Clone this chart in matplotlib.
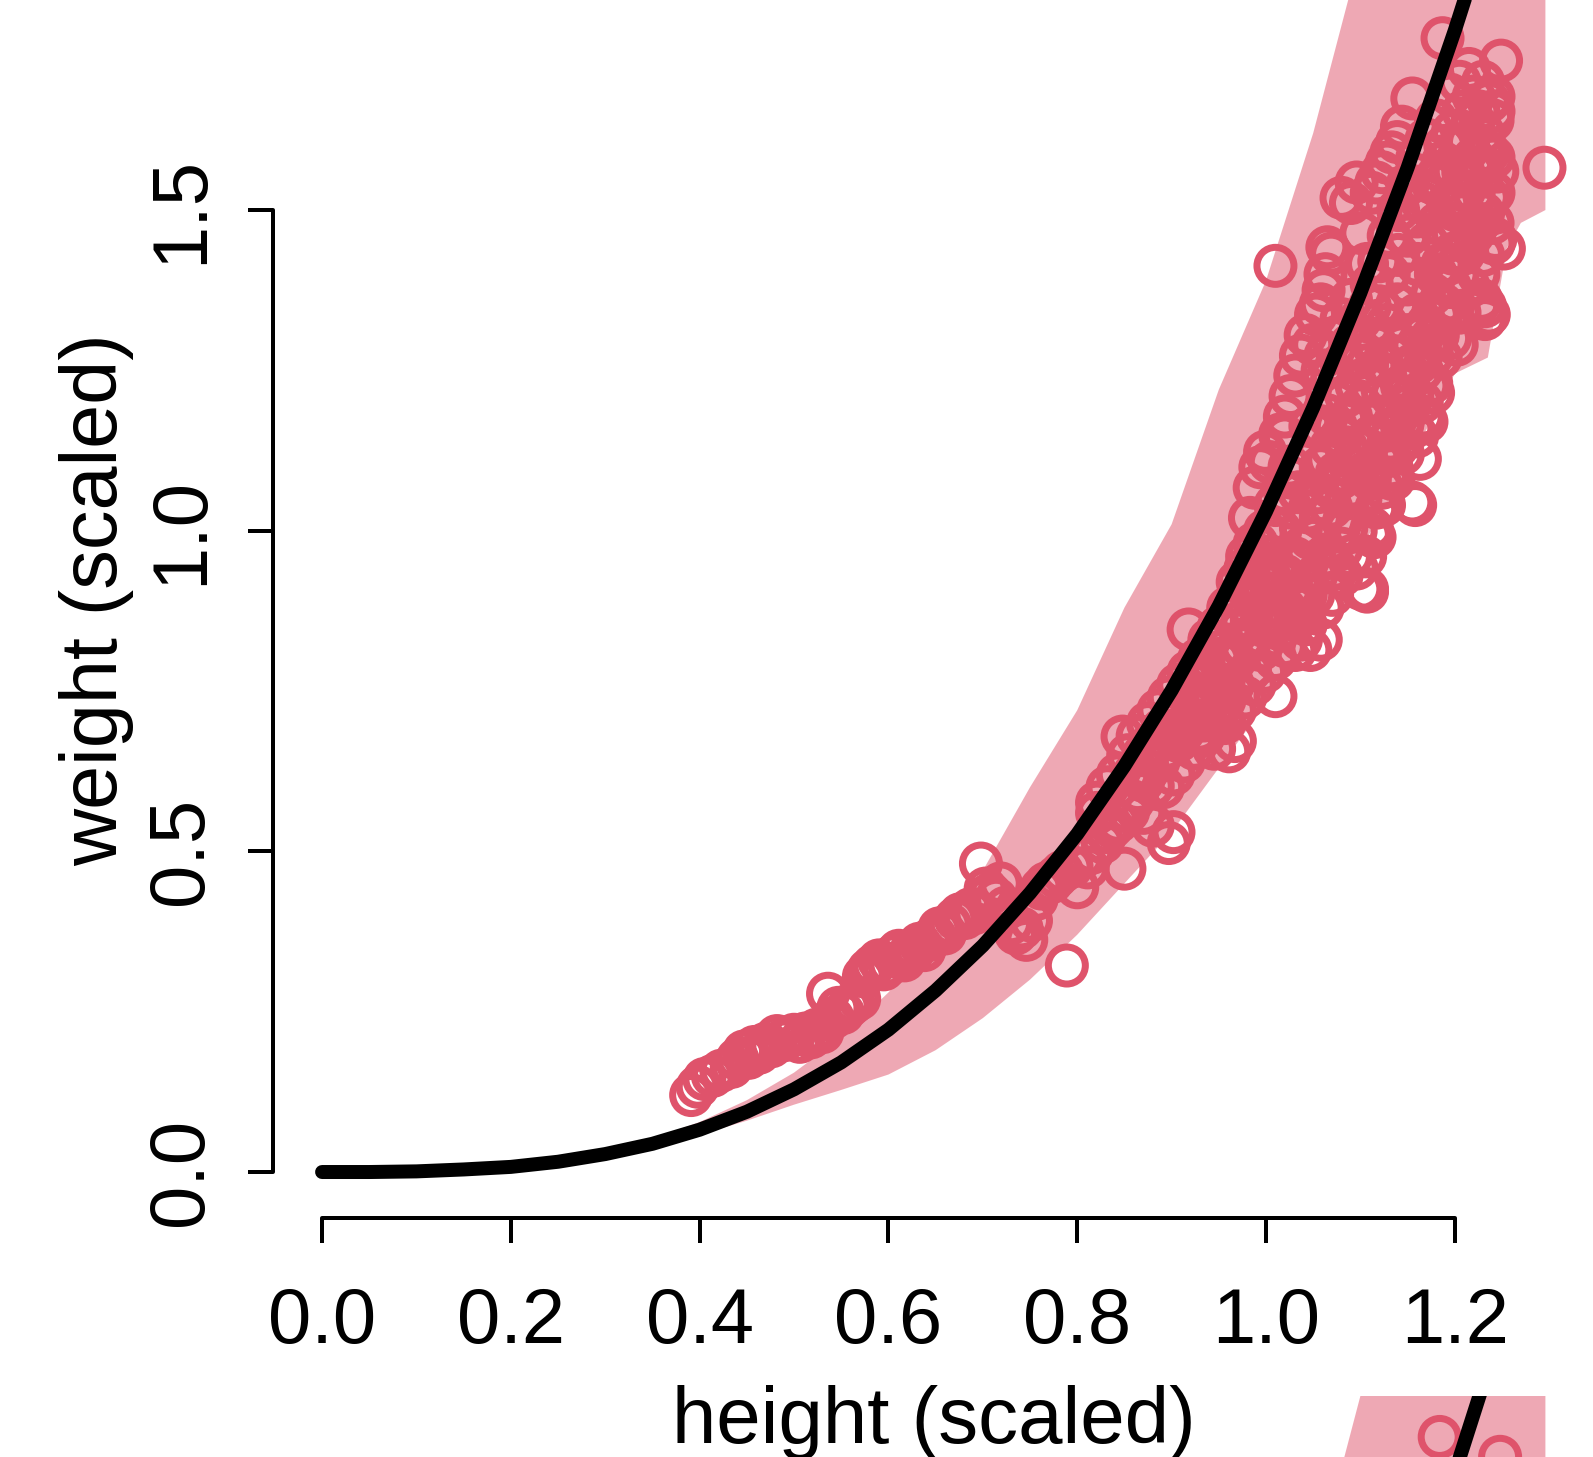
import matplotlib
import matplotlib.pyplot as plt

matplotlib.use("Agg")

plt.rcParams["font.family"] = ["Liberation Sans", "DejaVu Sans"]

# posterior mean curve (height grid -> expected weight), both scaled
grid_x = [0.00, 0.05, 0.10, 0.15, 0.20, 0.25, 0.30, 0.35, 0.40, 0.45, 0.50,
          0.55, 0.60, 0.65, 0.70, 0.75, 0.80, 0.85, 0.90, 0.95, 1.00, 1.05,
          1.10, 1.15, 1.20, 1.25, 1.30]
mu = [0.000, 0.000, 0.001, 0.004, 0.008, 0.016, 0.028, 0.044, 0.066, 0.094,
      0.129, 0.171, 0.222, 0.283, 0.353, 0.435, 0.527, 0.633, 0.751, 0.883,
      1.030, 1.192, 1.371, 1.566, 1.780, 2.010, 2.263]

# 89% prediction interval for simulated weights
band_x = [0.30, 0.35, 0.40, 0.45, 0.50, 0.55, 0.60, 0.65, 0.70, 0.75, 0.80,
          0.85, 0.90, 0.95, 1.00, 1.05, 1.10, 1.15, 1.20, 1.235, 1.255, 1.27,
          1.296]
band_lo = [0.026, 0.040, 0.058, 0.080, 0.105, 0.128, 0.152, 0.190, 0.240,
           0.300, 0.370, 0.450, 0.530, 0.630, 0.730, 0.840, 0.970, 1.100,
           1.245, 1.270, 1.440, 1.480, 1.500]
band_hi = [0.031, 0.052, 0.078, 0.112, 0.155, 0.210, 0.280, 0.360, 0.470,
           0.600, 0.720, 0.880, 1.010, 1.220, 1.390, 1.620, 1.900, 2.150,
           2.400, 2.580, 2.650, 2.700, 2.800]

# observed individuals
height = [
    0.391, 0.398, 0.405, 0.414, 0.423, 0.434, 0.440, 0.447, 0.452, 0.458,
    0.463, 0.470, 0.476, 0.482, 0.488, 0.494, 0.500, 0.506, 0.512, 0.518,
    0.524, 0.530, 0.536, 0.541, 0.547, 0.552, 0.558, 0.563, 0.569, 0.574,
    0.579, 0.584, 0.590, 0.595, 0.601, 0.606, 0.611, 0.617, 0.622, 0.628,
    0.633, 0.638, 0.644, 0.649, 0.654, 0.660, 0.665, 0.671, 0.676, 0.681,
    0.687, 0.692, 0.698, 0.703, 0.708, 0.714, 0.719, 0.724, 0.730, 0.735,
    0.741, 0.746, 0.751, 0.757, 0.762, 0.767, 0.773, 0.778, 0.784, 0.789,
    0.794, 0.800, 0.805, 0.811, 0.816, 0.821, 0.827, 0.832, 0.837, 0.843,
    0.848, 0.850, 0.854, 0.859, 0.864, 0.870, 0.875, 0.880, 0.886, 0.891,
    0.897, 0.902, 0.907, 0.913, 0.918, 0.924, 0.929, 0.934, 0.940, 0.945,
    0.950, 0.956, 0.961, 0.967, 0.918, 0.934, 0.945, 0.956, 0.967, 0.972,
    0.983, 0.988, 0.994, 0.999, 1.004, 1.010, 1.015, 1.020, 1.026, 1.031,
    1.037, 1.042, 1.047, 1.058, 0.870, 0.880, 0.891, 0.902, 0.913, 0.924,
    0.934, 0.945, 0.956, 0.967, 0.978, 0.988, 0.999, 1.010, 1.020, 1.031,
    1.042, 1.053, 1.064, 0.978, 0.988, 0.999, 1.010, 1.020, 0.994, 0.972,
    0.961, 0.950, 0.940, 0.929, 0.918, 0.907, 0.897, 0.886, 0.875, 0.864,
    0.854, 0.843, 0.832, 0.821, 0.983, 0.988, 0.994, 0.999, 1.004, 1.010,
    1.010, 1.015, 1.020, 1.026, 1.031, 1.037, 1.047, 1.053, 1.058, 1.063,
    1.069, 1.074, 1.080, 1.085, 1.090, 1.096, 1.101, 1.107, 1.112, 1.117,
    1.123, 1.128, 1.133, 1.139, 1.144, 1.150, 1.155, 1.160, 1.166, 1.171,
    1.176, 1.182, 1.187, 1.193, 1.198, 1.203, 1.209, 1.214, 1.220, 1.225,
    1.230, 1.236, 1.241, 1.249, 1.236, 1.241, 1.225, 1.228, 1.243, 1.090,
    1.080, 1.096, 1.101, 1.107, 1.112, 1.069, 1.063, 1.058, 1.053, 1.042,
    1.037, 1.031, 1.026, 1.020, 1.112, 1.117, 1.123, 1.128, 1.133, 1.139,
    1.144, 1.155, 1.166, 1.176, 1.187, 1.198, 1.209, 1.220, 1.187, 1.182,
    1.171, 1.166, 1.160, 1.176, 1.187, 1.198, 1.209, 1.220, 1.230, 1.241,
    1.203, 1.214, 1.225, 1.209, 1.220, 1.230, 1.241, 1.252, 1.295, 1.241,
    1.236, 1.155, 1.144, 1.133, 1.123, 1.112, 1.101, 1.090, 1.080, 1.069,
    1.058, 1.047, 1.037, 1.026, 1.144, 1.150, 1.133, 1.123, 1.112, 1.101,
    1.090, 1.080, 1.069, 1.058, 1.085, 1.096, 1.107, 1.117, 1.128, 1.139,
    1.150, 1.160, 1.171, 1.182, 1.193, 1.074, 1.085, 1.065, 1.061, 1.050,
    1.232, 1.232, 1.202, 1.177, 1.170, 1.163, 1.158, 1.110, 1.107,
    1.060, 1.070, 1.080, 1.090, 1.100, 1.110, 1.120, 1.130, 1.140, 1.150,
    1.160, 1.170, 1.180, 1.190, 1.200, 1.210, 1.220, 1.230, 1.240, 1.215,
    1.205, 1.195, 1.185, 1.175, 1.165, 1.155, 1.145, 1.135, 1.125, 1.115,
    1.105, 1.095, 1.085, 1.075, 1.065, 1.055, 1.045, 1.035, 1.025, 1.015,
    1.005, 0.995, 0.985, 0.975, 0.965, 0.955, 0.945, 0.935, 0.925, 0.960,
    1.000, 1.040, 1.050, 1.060, 1.070, 1.080, 1.090, 1.100, 1.110, 1.120,
    1.130, 1.140, 1.150, 1.160, 1.170, 1.180, 1.190, 1.200, 1.210, 1.220,
    1.230, 1.225, 1.240, 1.245, 1.235, 1.195, 1.185, 1.175, 1.165, 1.155,
    1.145, 1.135, 1.125, 1.105, 1.095, 1.085, 1.075, 1.065, 1.080, 1.090,
    1.100, 1.110, 1.120, 1.130, 1.140, 1.150, 1.160, 1.170, 1.180, 1.195,
    1.205, 1.215, 1.230, 0.960, 0.970, 0.980, 0.990, 1.000, 1.010, 1.020,
    1.030, 1.040, 0.950, 0.940, 0.930, 0.975, 0.985, 1.000, 0.860, 0.870,
    0.880, 0.890, 0.900, 0.910, 0.920, 0.930, 0.895, 0.905,
]
weight = [
    0.120, 0.133, 0.145, 0.150, 0.158, 0.164, 0.176, 0.188, 0.178, 0.195,
    0.186, 0.200, 0.196, 0.212, 0.205, 0.210, 0.214, 0.203, 0.216, 0.210,
    0.222, 0.218, 0.278, 0.240, 0.256, 0.248, 0.258, 0.264, 0.270, 0.305,
    0.315, 0.322, 0.330, 0.316, 0.324, 0.338, 0.345, 0.330, 0.340, 0.348,
    0.356, 0.346, 0.362, 0.368, 0.380, 0.372, 0.386, 0.395, 0.402, 0.396,
    0.410, 0.404, 0.481, 0.442, 0.434, 0.426, 0.450, 0.412, 0.388, 0.372,
    0.380, 0.362, 0.392, 0.426, 0.442, 0.450, 0.452, 0.460, 0.468, 0.322,
    0.476, 0.444, 0.490, 0.475, 0.498, 0.576, 0.514, 0.530, 0.538, 0.546,
    0.679, 0.473, 0.562, 0.578, 0.594, 0.610, 0.626, 0.602, 0.640, 0.656,
    0.513, 0.530, 0.672, 0.688, 0.704, 0.720, 0.688, 0.704, 0.736, 0.704,
    0.720, 0.736, 0.656, 0.672, 0.846, 0.798, 0.782, 0.814, 0.798, 0.846,
    0.782, 0.893, 0.814, 0.830, 0.862, 0.742, 0.846, 0.878, 0.893, 0.814,
    0.830, 0.854, 0.814, 0.830, 0.560, 0.540, 0.600, 0.620, 0.640, 0.660,
    0.680, 0.660, 0.700, 0.720, 0.740, 0.760, 0.780, 0.800, 0.820, 0.860,
    0.900, 0.930, 0.960, 0.940, 0.980, 1.000, 1.040, 1.060, 0.940, 0.900,
    0.870, 0.850, 0.830, 0.800, 0.780, 0.760, 0.740, 0.720, 0.700, 0.680,
    0.650, 0.620, 0.600, 0.560, 1.020, 1.067, 1.099, 1.123, 1.107, 1.413,
    0.941, 1.150, 1.147, 1.083, 0.957, 0.972, 1.163, 0.988, 1.099, 1.273,
    1.036, 0.941, 0.972, 1.004, 1.067, 0.941, 0.909, 0.909, 1.004, 1.036,
    1.067, 1.083, 1.099, 1.131, 1.163, 1.194, 1.044, 1.147, 1.178, 1.226,
    1.273, 1.305, 1.353, 1.416, 1.432, 1.511, 1.559, 1.606, 1.638, 1.654,
    1.590, 1.669, 1.677, 1.733, 1.337, 1.448, 1.353, 1.360, 1.455, 1.511,
    1.519, 1.543, 1.464, 1.416, 1.384, 1.432, 1.400, 1.353, 1.337, 1.305,
    1.273, 1.242, 1.210, 1.178, 1.527, 1.543, 1.559, 1.574, 1.590, 1.606,
    1.630, 1.674, 1.511, 1.543, 1.574, 1.622, 1.654, 1.677, 1.768, 1.337,
    1.289, 1.305, 1.337, 1.369, 1.416, 1.464, 1.495, 1.527, 1.559, 1.582,
    1.400, 1.448, 1.479, 1.432, 1.464, 1.495, 1.527, 1.440, 1.566, 1.654,
    1.590, 1.258, 1.226, 1.210, 1.178, 1.147, 1.131, 1.099, 1.083, 1.067,
    1.020, 0.988, 1.004, 1.036, 1.289, 1.305, 1.273, 1.258, 1.226, 1.194,
    1.178, 1.147, 1.131, 1.163, 1.210, 1.226, 1.258, 1.289, 1.321, 1.353,
    1.384, 1.416, 1.448, 1.479, 1.511, 1.163, 1.130, 1.442, 1.375, 1.290,
    1.350, 1.330, 1.290, 1.215, 1.170, 1.112, 1.040, 0.994, 0.905,
    1.250, 1.300, 1.330, 1.360, 1.330, 1.300, 1.350, 1.400, 1.430, 1.460,
    1.490, 1.520, 1.550, 1.600, 1.560, 1.600, 1.580, 1.620, 1.640, 1.380,
    1.340, 1.300, 1.270, 1.230, 1.200, 1.160, 1.120, 1.080, 1.040, 0.990,
    0.960, 1.000, 1.050, 1.090, 1.110, 1.060, 1.030, 1.060, 1.100, 1.000,
    0.960, 0.920, 0.860, 0.820, 0.760, 0.760, 0.740, 0.760, 0.740, 0.800,
    0.880, 0.950, 0.900, 0.880, 0.900, 0.930, 0.960, 1.050, 1.080, 1.110,
    1.140, 1.180, 1.230, 1.260, 1.320, 1.400, 1.450, 1.500, 1.530, 1.560,
    1.430, 1.400, 1.480, 1.560, 1.520, 1.380, 1.330, 1.300, 1.250, 1.210,
    1.170, 1.160, 1.120, 1.090, 1.130, 1.170, 1.200, 1.180, 1.260, 1.290,
    1.270, 1.350, 1.420, 1.460, 1.500, 1.540, 1.580, 1.610, 1.640, 1.680,
    1.700, 1.720, 1.700, 0.880, 0.920, 0.960, 0.980, 0.930, 0.900, 0.930,
    0.900, 0.880, 0.800, 0.770, 0.760, 0.860, 0.900, 0.850, 0.620, 0.650,
    0.670, 0.690, 0.700, 0.720, 0.750, 0.720, 0.660, 0.680,
]

# the two points of the next panel that show at the bottom edge
next_height = [1.184, 1.248]
next_weight = [1.836, 1.805]

x_ticks = [0.0, 0.2, 0.4, 0.6, 0.8, 1.0, 1.2]
y_ticks = [0.0, 0.5, 1.0, 1.5]

red = "#DF536B"
W, H, DPI = 1593, 1457, 100
PX = 72 / DPI   # points per pixel

fig = plt.figure(figsize=(W / DPI, H / DPI), dpi=DPI)

# main panel: plot region runs past the top edge of the picture
ax = fig.add_axes([273 / W, (H - 1218) / H, (1594.5 - 273) / W, 1240.1 / H])
# next panel down, only its top strip is visible
ax2 = fig.add_axes([273 / W, (H - 2636) / H, (1594.5 - 273) / W, 1240.1 / H])


def draw(a, xs, ys):
    a.fill_between(band_x, band_lo, band_hi, color=red, alpha=0.5, lw=0)
    a.scatter(xs, ys, s=(37 * PX) ** 2, facecolors="none",
              edgecolors=red, linewidths=7 * PX, zorder=3)
    a.plot(grid_x, mu, color="black", lw=14 * PX, solid_capstyle="round",
           zorder=4)
    a.set_xlim(-0.052, 1.348)


draw(ax, height, weight)
ax.set_ylim(-0.0717, 1.862)
draw(ax2, next_height, next_weight)
ax2.set_ylim(1.90 - 1.9337, 1.90)
ax2.axis("off")

for side in ["top", "right"]:
    ax.spines[side].set_visible(False)
ax.spines["left"].set_bounds(0, 1.5)
ax.spines["bottom"].set_bounds(0, 1.2)
for side in ["left", "bottom"]:
    ax.spines[side].set_linewidth(4 * PX)
    ax.spines[side].set_capstyle("round")

ax.set_xticks(x_ticks)
ax.set_xticklabels([f"{t:.1f}" for t in x_ticks])
ax.set_yticks(y_ticks)
ax.set_yticklabels([f"{t:.1f}" for t in y_ticks], rotation=90, va="center")
ax.tick_params(axis="both", length=25 * PX, width=4 * PX, labelsize=56)
ax.tick_params(axis="x", pad=43 * PX)
ax.tick_params(axis="y", pad=30 * PX)

ax.set_xlabel("height (scaled)", fontsize=57.5, va="center")
ax.xaxis.set_label_coords(0.5, (1218 - 1422) / 1240.1)
ax.set_ylabel("weight (scaled)", fontsize=57, va="center")
ax.yaxis.set_label_coords((97 - 273) / 1321.5, (1218 - 600) / 1240.1)

fig.savefig("out.png", dpi=DPI)
plt.close(fig)
